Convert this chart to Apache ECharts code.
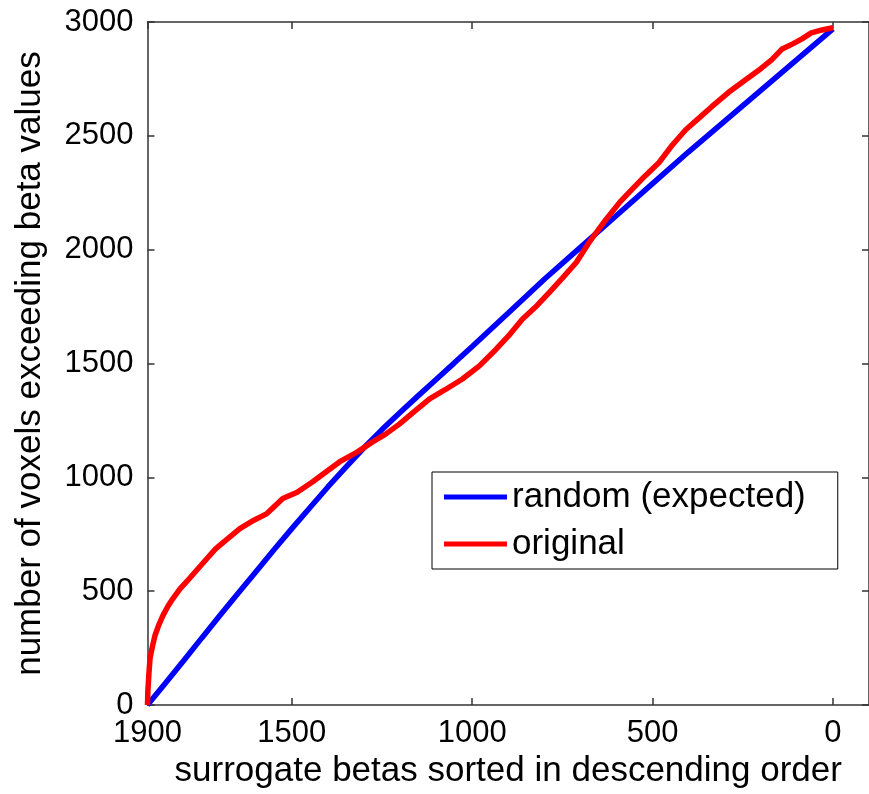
<!DOCTYPE html>
<html>
<head>
<meta charset="utf-8">
<script src="https://cdn.jsdelivr.net/npm/echarts@6/dist/echarts.min.js"></script>
<style>
  html, body { margin: 0; padding: 0; background: #fff; }
  #chart { width: 869px; height: 794px; }
</style>
</head>
<body>
<div id="chart"></div>
<script>
// tick values
const xTicks = [1900, 1500, 1000, 500, 0];
const yTicks = [0, 500, 1000, 1500, 2000, 2500, 3000];

// expected curve for random surrogates: [sorted beta rank, voxel count]
const randomExpected = [
  [1900, 0], [1850, 97], [1800, 195], [1750, 294], [1700, 392], [1650, 489],
  [1600, 585], [1550, 681], [1500, 775], [1450, 867], [1400, 958], [1350, 1045],
  [1300, 1130], [1250, 1210], [1200, 1285], [1150, 1358], [1100, 1430],
  [1050, 1502], [1000, 1575], [900, 1722], [800, 1870], [700, 2010],
  [600, 2150], [500, 2290], [400, 2430], [300, 2565], [200, 2700],
  [100, 2835], [0, 2970]
];

// observed curve
const original = [
  [1900, 0], [1899, 60], [1896, 140], [1893, 206], [1886, 260], [1879, 307],
  [1868, 355], [1857, 394], [1843, 435], [1829, 469], [1810, 510], [1791, 543],
  [1765, 590], [1735, 644], [1712, 685], [1690, 715],
  [1644, 775], [1605, 812], [1569, 841], [1525, 907], [1485, 935], [1442, 981],
  [1400, 1030], [1367, 1069], [1320, 1110], [1276, 1156], [1240, 1190],
  [1201, 1235], [1160, 1290], [1118, 1345], [1075, 1385], [1027, 1432],
  [980, 1490], [933, 1564], [900, 1620], [861, 1695], [820, 1755], [786, 1813],
  [750, 1875], [711, 1945], [676, 2032], [629, 2133], [590, 2210], [557, 2265],
  [520, 2325], [482, 2383], [445, 2460], [408, 2527], [370, 2580], [336, 2628],
  [290, 2690], [242, 2746], [200, 2795], [170, 2834], [142, 2880], [110, 2905],
  [87, 2925], [60, 2952], [30, 2965], [0, 2975]
];

const FONT = "'Liberation Sans', Arial, sans-serif";
const axisColor = "#333";

const chart = echarts.init(document.getElementById("chart"), null, { renderer: "canvas" });

const boxLine = { show: true, onZero: false, lineStyle: { color: axisColor, width: 1.5 } };
const tickStyle = { inside: true, length: 7, lineStyle: { color: axisColor, width: 1.5 } };
const plain = (v) => String(v);

chart.setOption({
  animation: false,
  backgroundColor: "#fff",
  grid: { left: 147.5, right: -2, top: 22, bottom: 87, containLabel: false },
  legend: {
    left: 432,
    top: 472,
    orient: "vertical",
    icon: "rect",
    itemWidth: 63,
    itemHeight: 5,
    itemGap: 11,
    itemTextGap: 8,
    padding: [7, 32, 7, 12],
    borderColor: "#000",
    borderWidth: 1,
    textStyle: { fontFamily: FONT, fontSize: 35, color: "#000", lineHeight: 36 },
    data: ["random (expected)", "original"]
  },
  xAxis: [
    {
      type: "value",
      min: -100,
      max: 1900,
      inverse: true,
      position: "bottom",
      name: "surrogate betas sorted in descending order",
      nameLocation: "middle",
      nameGap: 42,
      nameTextStyle: { fontFamily: FONT, fontSize: 35, color: "#000" },
      axisLine: boxLine,
      axisTick: Object.assign({ customValues: xTicks }, tickStyle),
      axisLabel: { customValues: xTicks, formatter: plain, fontFamily: FONT, fontSize: 31, color: "#000", margin: 13 },
      splitLine: { show: false }
    },
    {
      type: "value",
      min: -100,
      max: 1900,
      inverse: true,
      position: "top",
      axisLine: boxLine,
      axisTick: Object.assign({ customValues: xTicks }, tickStyle),
      axisLabel: { show: false },
      splitLine: { show: false }
    }
  ],
  yAxis: [
    {
      type: "value",
      min: 0,
      max: 3000,
      interval: 500,
      position: "left",
      name: "number of voxels exceeding beta values",
      nameLocation: "middle",
      nameGap: 100,
      nameTextStyle: { fontFamily: FONT, fontSize: 35, color: "#000" },
      axisLine: boxLine,
      axisTick: Object.assign({ customValues: yTicks }, tickStyle),
      axisLabel: { customValues: yTicks, formatter: plain, fontFamily: FONT, fontSize: 31, color: "#000", margin: 14 },
      splitLine: { show: false }
    },
    {
      type: "value",
      min: 0,
      max: 3000,
      interval: 500,
      position: "right",
      axisLine: boxLine,
      axisTick: Object.assign({ customValues: yTicks }, tickStyle),
      axisLabel: { show: false },
      splitLine: { show: false }
    }
  ],
  series: [
    {
      name: "random (expected)",
      type: "line",
      data: randomExpected,
      symbol: "none",
      clip: false,
      smooth: false,
      color: "#0000ff",
      lineStyle: { color: "#0000ff", width: 5.5 }
    },
    {
      name: "original",
      type: "line",
      data: original,
      symbol: "none",
      clip: false,
      smooth: false,
      color: "#ff0000",
      lineStyle: { color: "#ff0000", width: 5.5 }
    }
  ]
});
</script>
</body>
</html>
